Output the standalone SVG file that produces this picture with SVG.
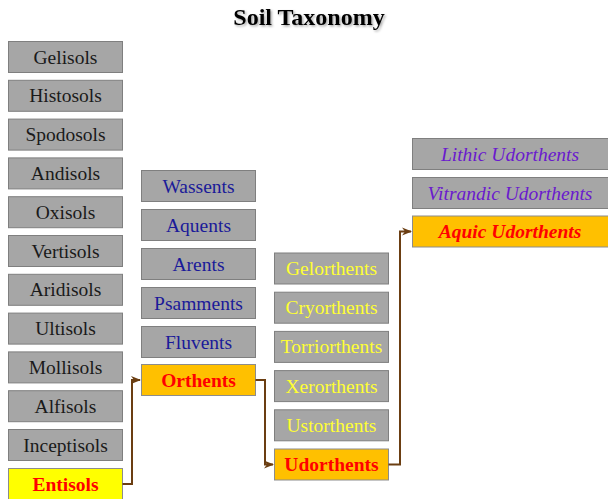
<svg xmlns="http://www.w3.org/2000/svg" width="608" height="499" viewBox="0 0 608 499">
<defs>
<marker id="arr" viewBox="0 0 10 10" refX="9" refY="5" markerWidth="10" markerHeight="10" markerUnits="userSpaceOnUse" orient="auto">
<path d="M0,1 L10,5 L0,9 L3,5 Z" fill="#6B3E12"/>
</marker>
<filter id="sh" x="-10%" y="-20%" width="120%" height="150%">
<feDropShadow dx="1.5" dy="1.5" stdDeviation="0.8" flood-color="#000" flood-opacity="0.35"/>
</filter>
</defs>
<style>
text{font-family:"Liberation Serif","Times New Roman",serif;font-size:19.5px;text-anchor:middle}
.b{fill:#A6A6A6;stroke:#7F7F7F;stroke-width:1}
.o{fill:#FFC000;stroke:#8C8C8C;stroke-width:1}
.y{fill:#FFFF00;stroke:#8C8C8C;stroke-width:1}
.k{fill:#1A1A1A}
.n{fill:#1A1A99}
.yl{fill:#FFFF33}
.p{fill:#6A1ACD;font-style:italic}
.r{fill:#FF0000;font-weight:bold}
.c{fill:none;stroke:#6B3E12;stroke-width:2}
</style>
<rect width="608" height="499" fill="#fff"/>
<text x="309" y="25" style="font-size:24px;font-weight:bold" fill="#000" filter="url(#sh)">Soil Taxonomy</text>

<g id="gelisols"><rect class="b" x="8.5" y="41.5" width="114" height="31"/><text class="k" x="65.5" y="63.5">Gelisols</text></g>
<g id="histosols"><rect class="b" x="8.5" y="80.3" width="114" height="31"/><text class="k" x="65.5" y="102.3">Histosols</text></g>
<g id="spodosols"><rect class="b" x="8.5" y="119.1" width="114" height="31"/><text class="k" x="65.5" y="141.1">Spodosols</text></g>
<g id="andisols"><rect class="b" x="8.5" y="157.9" width="114" height="31"/><text class="k" x="65.5" y="179.9">Andisols</text></g>
<g id="oxisols"><rect class="b" x="8.5" y="196.7" width="114" height="31"/><text class="k" x="65.5" y="218.7">Oxisols</text></g>
<g id="vertisols"><rect class="b" x="8.5" y="235.5" width="114" height="31"/><text class="k" x="65.5" y="257.5">Vertisols</text></g>
<g id="aridisols"><rect class="b" x="8.5" y="274.3" width="114" height="31"/><text class="k" x="65.5" y="296.3">Aridisols</text></g>
<g id="ultisols"><rect class="b" x="8.5" y="313.1" width="114" height="31"/><text class="k" x="65.5" y="335.1">Ultisols</text></g>
<g id="mollisols"><rect class="b" x="8.5" y="351.9" width="114" height="31"/><text class="k" x="65.5" y="373.9">Mollisols</text></g>
<g id="alfisols"><rect class="b" x="8.5" y="390.7" width="114" height="31"/><text class="k" x="65.5" y="412.7">Alfisols</text></g>
<g id="inceptisols"><rect class="b" x="8.5" y="429.5" width="114" height="31"/><text class="k" x="65.5" y="451.5">Inceptisols</text></g>
<g id="entisols"><rect class="y" x="8.5" y="468.5" width="114" height="31"/><text class="r" x="65.5" y="490.5">Entisols</text></g>

<g id="wassents"><rect class="b" x="141.5" y="170.5" width="114" height="31"/><text class="n" x="198.5" y="192.5">Wassents</text></g>
<g id="aquents"><rect class="b" x="141.5" y="209.5" width="114" height="31"/><text class="n" x="198.5" y="231.5">Aquents</text></g>
<g id="arents"><rect class="b" x="141.5" y="248.5" width="114" height="31"/><text class="n" x="198.5" y="270.5">Arents</text></g>
<g id="psamments"><rect class="b" x="141.5" y="287.5" width="114" height="31"/><text class="n" x="198.5" y="309.5">Psamments</text></g>
<g id="fluvents"><rect class="b" x="141.5" y="326.5" width="114" height="31"/><text class="n" x="198.5" y="348.5">Fluvents</text></g>
<g id="orthents"><rect class="o" x="141.5" y="364.5" width="114" height="31"/><text class="r" x="198.5" y="386.5">Orthents</text></g>

<g id="gelorthents"><rect class="b" x="274.5" y="253" width="114" height="31"/><text class="yl" x="331.5" y="275">Gelorthents</text></g>
<g id="cryorthents"><rect class="b" x="274.5" y="292.2" width="114" height="31"/><text class="yl" x="331.5" y="314.2">Cryorthents</text></g>
<g id="torriorthents"><rect class="b" x="274.5" y="331.4" width="114" height="31"/><text class="yl" x="331.5" y="353.4">Torriorthents</text></g>
<g id="xerorthents"><rect class="b" x="274.5" y="370.6" width="114" height="31"/><text class="yl" x="331.5" y="392.6">Xerorthents</text></g>
<g id="ustorthents"><rect class="b" x="274.5" y="409.8" width="114" height="31"/><text class="yl" x="331.5" y="431.8">Ustorthents</text></g>
<g id="udorthents"><rect class="o" x="274.5" y="449" width="114" height="31"/><text class="r" x="331.5" y="471">Udorthents</text></g>

<g id="lithic"><rect class="b" x="412.5" y="138.5" width="197" height="31"/><text class="p" x="510" y="160.5">Lithic Udorthents</text></g>
<g id="vitrandic"><rect class="b" x="412.5" y="177.5" width="197" height="31"/><text class="p" x="510" y="199.5">Vitrandic Udorthents</text></g>
<g id="aquic"><rect class="o" x="412.5" y="216" width="197" height="31"/><text class="r" x="510" y="238" style="font-style:italic">Aquic Udorthents</text></g>

<g id="connectors">
<path class="c" d="M122.5,484 H132 V380 H140" marker-end="url(#arr)"/>
<path class="c" d="M255.5,380 H265 V464.5 H273" marker-end="url(#arr)"/>
<path class="c" d="M388.5,464.5 H400 V231.5 H411" marker-end="url(#arr)"/>
</g>
</svg>
